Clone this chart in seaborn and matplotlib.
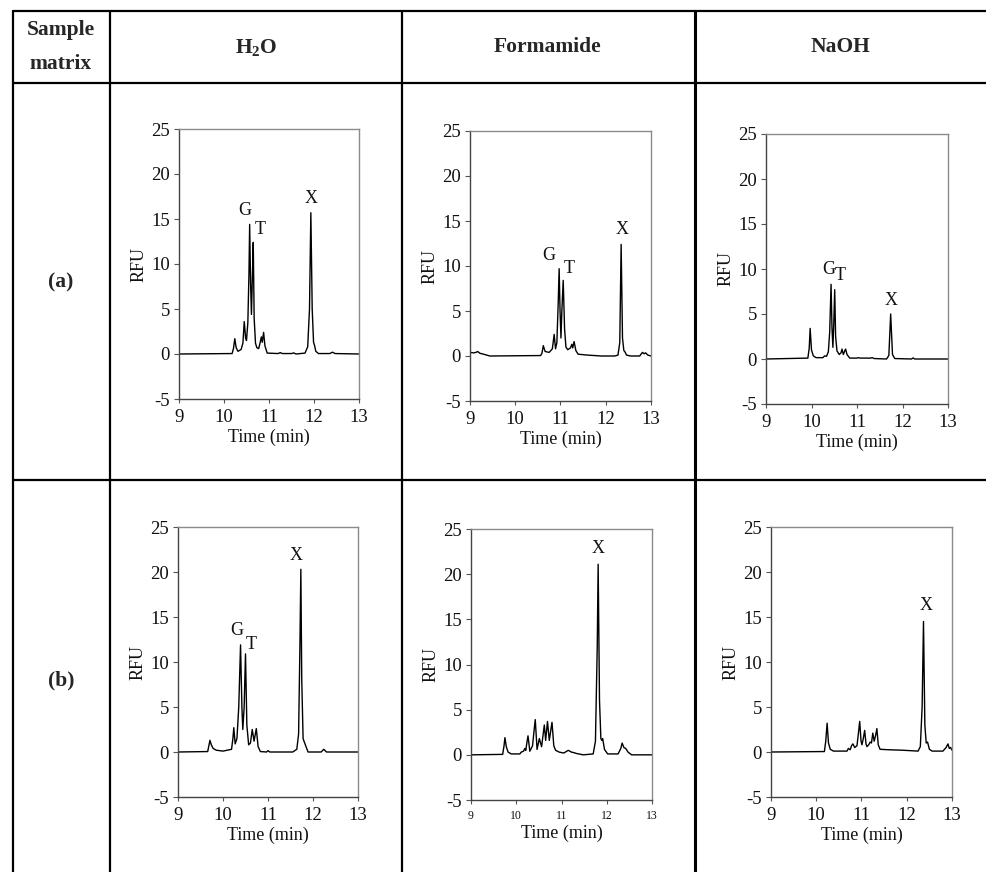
import matplotlib
matplotlib.use("Agg")
import matplotlib.pyplot as plt
from matplotlib.lines import Line2D
import seaborn as sns
import pandas as pd

# ---- chromatogram traces: time (min) and signal (RFU) ----
h2o_a_t = [9.0, 10.18, 10.21, 10.24, 10.27, 10.31, 10.38, 10.42, 10.45, 10.48, 10.50, 10.53, 10.555,
           10.57, 10.59, 10.61, 10.63, 10.65, 10.67, 10.70, 10.73, 10.77, 10.80, 10.83, 10.85, 10.88,
           10.91, 10.96, 11.2, 11.25, 11.3, 11.5, 11.55, 11.6, 11.80, 11.86, 11.90, 11.93, 11.96,
           11.99, 12.01, 12.04, 12.1, 12.35, 12.41, 12.47, 13.0]
h2o_a_rfu = [0.0, 0.05, 0.6, 1.7, 0.7, 0.3, 0.5, 1.2, 3.6, 1.8, 1.5, 3.5, 9.0,
             14.4, 8.0, 4.4, 8.5, 12.4, 4.0, 1.2, 0.7, 0.6, 1.2, 1.9, 1.3, 2.4,
             0.9, 0.1, 0.05, 0.15, 0.05, 0.05, 0.12, 0.0, 0.1, 0.8, 5.0, 15.7, 5.0,
             1.3, 1.0, 0.3, 0.05, 0.05, 0.2, 0.05, 0.0]

form_a_t = [9.0, 9.08, 9.13, 9.17, 9.22, 9.3, 9.44, 10.56, 10.59, 10.62, 10.66, 10.75, 10.82, 10.86,
            10.89, 10.92, 10.95, 10.97, 10.99, 11.01, 11.03, 11.06, 11.09, 11.12, 11.16, 11.22, 11.25,
            11.27, 11.30, 11.34, 11.39, 11.6, 11.9, 12.2, 12.27, 12.31, 12.34, 12.37, 12.40, 12.42,
            12.46, 12.55, 12.75, 12.81, 12.85, 12.88, 12.93, 13.0]
form_a_rfu = [0.4, 0.35, 0.4, 0.5, 0.3, 0.2, 0.0, 0.05, 0.3, 1.15, 0.5, 0.4, 0.8, 2.4,
              0.8, 1.5, 6.0, 9.7, 5.0, 2.0, 5.0, 8.4, 3.0, 1.0, 0.7, 0.9, 1.3,
              0.9, 1.6, 0.6, 0.2, 0.1, 0.0, 0.0, 0.1, 1.5, 12.4, 2.0, 0.6, 0.5,
              0.1, 0.0, 0.0, 0.4, 0.25, 0.35, 0.1, 0.0]

naoh_a_t = [9.0, 9.92, 9.95, 9.97, 10.0, 10.04, 10.1, 10.25, 10.29, 10.33, 10.37, 10.40, 10.43, 10.45,
            10.47, 10.49, 10.51, 10.53, 10.56, 10.61, 10.65, 10.67, 10.70, 10.73, 10.75, 10.78, 10.84,
            11.0, 11.03, 11.07, 11.3, 11.33, 11.38, 11.65, 11.70, 11.74, 11.78, 11.83, 12.2, 12.23,
            12.27, 13.0]
naoh_a_rfu = [0.0, 0.1, 1.2, 3.4, 1.0, 0.35, 0.15, 0.15, 0.35, 0.3, 0.8, 3.0, 8.3, 3.5,
              1.3, 4.0, 7.7, 2.5, 0.9, 0.5, 0.7, 1.1, 0.5, 0.9, 1.1, 0.5, 0.1,
              0.1, 0.15, 0.1, 0.1, 0.15, 0.05, 0.0, 0.4, 5.0, 0.5, 0.05, 0.0, 0.12,
              0.0, 0.0]

h2o_b_t = [9.0, 9.66, 9.69, 9.71, 9.74, 9.78, 9.85, 10.0, 10.19, 10.22, 10.24, 10.27, 10.31, 10.35,
           10.39, 10.42, 10.44, 10.47, 10.50, 10.53, 10.57, 10.61, 10.65, 10.69, 10.74, 10.78, 10.83,
           10.97, 11.0, 11.04, 11.55, 11.64, 11.68, 11.71, 11.73, 11.75, 11.78, 11.80, 11.83, 11.89,
           12.18, 12.24, 12.3, 13.0]
h2o_b_rfu = [0.0, 0.05, 0.8, 1.3, 0.8, 0.4, 0.2, 0.1, 0.3, 1.5, 2.7, 0.9, 1.5, 5.0,
             11.9, 5.0, 2.5, 5.0, 10.9, 3.0, 0.8, 1.0, 2.5, 1.2, 2.6, 0.6, 0.05,
             0.0, 0.15, 0.0, 0.0, 0.3, 2.0, 12.0, 20.3, 8.0, 1.5, 1.2, 0.8, 0.0,
             0.0, 0.3, 0.0, 0.0]

form_b_t = [9.0, 9.70, 9.73, 9.75, 9.78, 9.82, 9.89, 10.08, 10.11, 10.16, 10.19, 10.21, 10.24, 10.26,
            10.30, 10.36, 10.40, 10.42, 10.46, 10.51, 10.56, 10.62, 10.65, 10.69, 10.73, 10.79, 10.83,
            10.87, 10.95, 11.05, 11.15, 11.22, 11.27, 11.33, 11.48, 11.70, 11.75, 11.79, 11.81, 11.84,
            11.87, 11.89, 11.91, 11.95, 12.02, 12.25, 12.31, 12.34, 12.38, 12.42, 12.47, 12.55, 12.8,
            13.0]
form_b_rfu = [0.0, 0.05, 1.0, 1.9, 0.9, 0.3, 0.1, 0.1, 0.3, 0.4, 0.7, 0.5, 1.5, 2.1,
              0.4, 1.0, 3.0, 3.9, 0.6, 1.8, 0.9, 3.3, 1.6, 3.7, 1.6, 3.6, 1.0,
              0.5, 0.3, 0.2, 0.5, 0.3, 0.25, 0.15, 0.0, 0.1, 1.5, 12.0, 21.1, 6.0,
              1.8, 1.6, 1.8, 0.6, 0.1, 0.1, 0.7, 1.3, 0.8, 0.7, 0.3, 0.0, 0.0,
              0.0]

naoh_b_t = [9.0, 10.18, 10.21, 10.24, 10.27, 10.31, 10.38, 10.68, 10.71, 10.75, 10.78, 10.81, 10.85,
            10.90, 10.93, 10.96, 10.99, 11.01, 11.04, 11.07, 11.10, 11.12, 11.16, 11.19, 11.22, 11.25,
            11.28, 11.31, 11.34, 11.37, 11.41, 11.6, 11.9, 12.25, 12.30, 12.34, 12.37, 12.40, 12.43,
            12.46, 12.50, 12.56, 12.8, 12.87, 12.91, 12.94, 12.97, 13.0]
naoh_b_rfu = [0.0, 0.05, 1.2, 3.2, 1.0, 0.3, 0.1, 0.1, 0.4, 0.25, 0.7, 0.9, 0.5,
              0.7, 2.0, 3.4, 1.2, 0.8, 1.5, 2.4, 0.9, 0.6, 0.8, 1.1, 1.0, 2.1,
              1.2, 1.8, 2.6, 0.8, 0.3, 0.25, 0.2, 0.1, 0.6, 5.0, 14.5, 3.0, 1.0,
              1.1, 0.3, 0.1, 0.1, 0.5, 0.9, 0.4, 0.5, 0.2]

# ---- table text ----
column_titles = [r"$\mathbf{H_2O}$", "Formamide", "NaOH"]
row_titles = ["(a)", "(b)"]
y_ticks = [-5, 0, 5, 10, 15, 20, 25]
x_ticks = [9, 10, 11, 12, 13]

# peak annotations: (letter, time, RFU)
labels_a_h2o = [("G", 10.47, 15.9), ("T", 10.80, 13.8), ("X", 11.94, 17.3)]
labels_a_form = [("G", 10.75, 11.2), ("T", 11.20, 9.7), ("X", 12.37, 14.1)]
labels_a_naoh = [("G", 10.37, 9.9), ("T", 10.62, 9.3), ("X", 11.76, 6.5)]
labels_b_h2o = [("G", 10.30, 13.5), ("T", 10.63, 12.0), ("X", 11.63, 21.8)]
labels_b_form = [("X", 11.80, 22.8)]
labels_b_naoh = [("X", 12.42, 16.3)]

sns.set_theme(style="ticks")
plt.rcParams["font.family"] = ["Liberation Serif", "DejaVu Serif"]
plt.rcParams["mathtext.fontset"] = "custom"
plt.rcParams["mathtext.rm"] = "Liberation Serif"
plt.rcParams["mathtext.bf"] = "Liberation Serif:bold"
plt.rcParams["axes.unicode_minus"] = False

W, H = 986, 872
fig = plt.figure(figsize=(W / 100, H / 100), dpi=100)
fig.patch.set_facecolor("white")


def fx(px):
    return px / W


def fy(py):
    return 1 - py / H


def hline(y, x0, x1, lw=1.6):
    fig.add_artist(Line2D([fx(x0), fx(x1)], [fy(y), fy(y)], color="black", lw=lw,
                          transform=fig.transFigure))


def vline(x, y0, y1, lw=1.6):
    fig.add_artist(Line2D([fx(x), fx(x)], [fy(y0), fy(y1)], color="black", lw=lw,
                          transform=fig.transFigure))


# table grid
hline(11, 13, 986)
hline(83, 13, 986)
hline(480, 13, 986)
vline(13, 11, 872)
vline(110, 11, 872)
vline(402, 11, 872)
vline(695, 11, 872, lw=2.2)

# header cells
fig.text(fx(61), fy(30), "Sample", ha="center", va="center", fontsize=15.5, fontweight="bold")
fig.text(fx(61), fy(64), "matrix", ha="center", va="center", fontsize=15.5, fontweight="bold")
for cx, title in zip([256, 548, 840], column_titles):
    fig.text(fx(cx), fy(47), title, ha="center", va="center", fontsize=15.5, fontweight="bold")
for cy, title in zip([282, 680], row_titles):
    fig.text(fx(61), fy(cy), title, ha="center", va="center", fontsize=15.5, fontweight="bold")

panels = [
    ((179, 129, 359, 399), h2o_a_t, h2o_a_rfu, labels_a_h2o, 13.5),
    ((470, 131, 651, 401), form_a_t, form_a_rfu, labels_a_form, 13.5),
    ((766, 134, 948, 404), naoh_a_t, naoh_a_rfu, labels_a_naoh, 13.5),
    ((178, 527, 358, 797), h2o_b_t, h2o_b_rfu, labels_b_h2o, 13.5),
    ((471, 529, 652, 800), form_b_t, form_b_rfu, labels_b_form, 8.5),
    ((771, 527, 952, 797), naoh_b_t, naoh_b_rfu, labels_b_naoh, 13.5),
]

for (x0, y0, x1, y1), t, rfu, peaks, xtick_size in panels:
    ax = fig.add_axes([fx(x0), fy(y1), (x1 - x0) / W, (y1 - y0) / H])
    df = pd.DataFrame({"Time (min)": t, "RFU": rfu})
    sns.lineplot(data=df, x="Time (min)", y="RFU", ax=ax, color="black", lw=1.0,
                 estimator=None, sort=False)
    ax.set_xlim(9, 13)
    ax.set_ylim(-5, 25)
    ax.set_xticks(x_ticks)
    ax.set_yticks(y_ticks)
    ax.tick_params(axis="y", labelsize=13.5, length=3.5, width=0.8, color="#555555",
                   pad=3, labelcolor="#111111")
    ax.tick_params(axis="x", labelsize=xtick_size, length=3, width=0.8, color="#555555",
                   pad=4, labelcolor="#111111")
    ax.set_xlabel("Time (min)", fontsize=13, labelpad=2, color="#111111")
    ax.set_ylabel("RFU", fontsize=13, labelpad=3, color="#111111")
    for side in ("left", "bottom"):
        ax.spines[side].set_color("#444444")
        ax.spines[side].set_linewidth(1.0)
    for side in ("top", "right"):
        ax.spines[side].set_visible(True)
        ax.spines[side].set_color("#8a8a8a")
        ax.spines[side].set_linewidth(1.0)
    ax.set_facecolor("white")
    for letter, lt, lr in peaks:
        ax.text(lt, lr, letter, ha="center", va="center", fontsize=13, color="#111111")

fig.savefig("out.png", dpi=100, facecolor="white")
